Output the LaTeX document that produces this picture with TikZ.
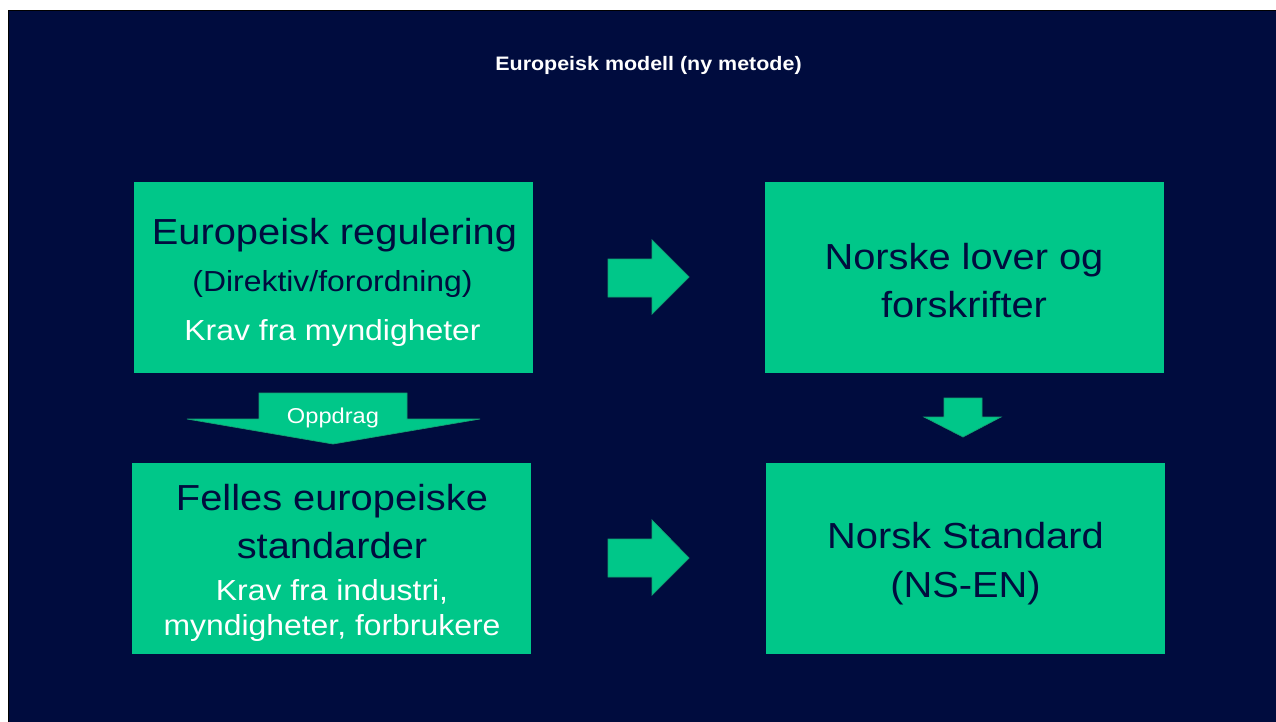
\documentclass[tikz,border=0pt]{standalone}
\usepackage{fontspec}
\setmainfont[FakeStretch=1.1]{Liberation Sans}
\definecolor{navybg}{RGB}{0,12,62}
\definecolor{navytext}{RGB}{0,12,62}
\definecolor{boxgreen}{RGB}{0,199,137}
\definecolor{edgegreen}{RGB}{20,160,115}
\tikzset{
  greenbox/.style={fill=boxgreen, draw=none, inner sep=0pt, minimum width=399pt, minimum height=191pt},
  bigtext/.style={anchor=base, inner sep=0pt, text=navytext, font=\fontsize{36.2}{40}\selectfont},
  midtext/.style={anchor=base, inner sep=0pt, text=navytext, font=\fontsize{29}{32}\selectfont},
  whitetext/.style={anchor=base, inner sep=0pt, text=white, font=\fontsize{29}{32}\selectfont},
  titletext/.style={anchor=base, inner sep=0pt, text=white, font=\fontsize{19.5}{22}\selectfont\bfseries},
  blockarrow/.style={fill=boxgreen, draw=edgegreen, line width=0.7pt, line join=miter}
}
\begin{document}
\begin{tikzpicture}[x=1pt,y=-1pt]
\useasboundingbox (0,0) rectangle (1276,722);
\fill[white] (0,0) rectangle (1276,722);
\fill[black] (8,10) rectangle (1276,722);
\fill[navybg] (9,11) rectangle (1276,722);

% title
\node[titletext] (title) at (648.5,71) {Europeisk modell (ny metode)};

% boxes
\node[greenbox] (b1) at (333.5,277.5) {};
\node[greenbox] (b2) at (964.5,277.5) {};
\node[greenbox] (b3) at (331.5,558.5) {};
\node[greenbox] (b4) at (965.5,558.5) {};

% box 1 text
\node[bigtext] (b1l1) at (334.5,244) {Europeisk regulering};
\node[midtext] (b1l2) at (332.5,291) {(Direktiv/forordning)};
\node[whitetext] (b1l3) at (332.5,340) {Krav fra myndigheter};

% box 2 text
\node[bigtext] (b2l1) at (964,269) {Norske lover og};
\node[bigtext] (b2l2) at (964,317) {forskrifter};

% box 3 text
\node[bigtext] (b3l1) at (332,510) {Felles europeiske};
\node[bigtext] (b3l2) at (332,558) {standarder};
\node[whitetext] (b3l3) at (332,600) {Krav fra industri,};
\node[whitetext] (b3l4) at (332,635) {myndigheter, forbrukere};

% box 4 text
\node[bigtext] (b4l1) at (965.5,548) {Norsk Standard};
\node[bigtext] (b4l2) at (965.5,597) {(NS-EN)};

% block arrows
\draw[blockarrow] (608,259) -- (652,259) -- (652,240) -- (689,277) -- (652,314) -- (652,297) -- (608,297) -- cycle;
\draw[blockarrow] (608,539) -- (652,539) -- (652,520) -- (689,558) -- (652,595) -- (652,577) -- (608,577) -- cycle;
\draw[blockarrow] (944,398) -- (982,398) -- (982,417) -- (1001,417) -- (963,437) -- (924,417) -- (944,417) -- cycle;
\draw[blockarrow] (259,393) -- (407,393) -- (407,419) -- (480,419) -- (333,444) -- (187,419) -- (259,419) -- cycle;
\node[anchor=base, inner sep=0pt, text=white, font=\fontsize{21.5}{24}\selectfont] (oppdrag) at (333,423) {Oppdrag};
\end{tikzpicture}
\end{document}
